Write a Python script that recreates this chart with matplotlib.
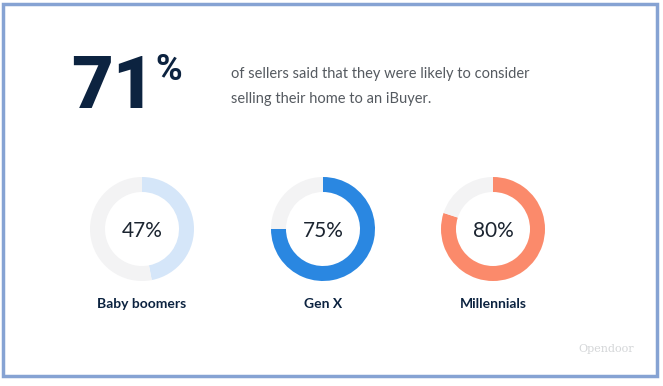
import matplotlib
matplotlib.use("Agg")
import matplotlib.pyplot as plt
from matplotlib.patches import Rectangle

# Data
headline_value = "71"
headline_text = ["of sellers said that they were likely to consider",
                 "selling their home to an iBuyer."]
groups = ["Baby boomers", "Gen X", "Millennials"]
shares = [47, 75, 80]
colors = ["#d5e6f9", "#2a87e1", "#fb8a6b"]
track = "#f3f3f4"
navy = "#0c2340"

W, H = 663, 386
fig = plt.figure(figsize=(W / 100, H / 100), dpi=100)
fig.patch.set_facecolor("white")

bg = fig.add_axes([0, 0, 1, 1])
bg.set_xlim(0, W)
bg.set_ylim(H, 0)
bg.axis("off")
bg.add_patch(Rectangle((3, 4), 654, 372, fill=False, edgecolor="#86a3d3", linewidth=2.5))

big = bg.text(71, 108, headline_value, fontsize=52, fontweight="black", family="Roboto",
              color=navy, ha="left", va="baseline")
fig.canvas.draw()
bb = big.get_window_extent()
bg.text(bb.x1 + 1, 80, "%", fontsize=26, fontweight="bold", family="Roboto",
        color=navy, ha="left", va="baseline")
bg.text(231, 78, headline_text[0], fontsize=10.5, family="Lato", color="#555a60",
        ha="left", va="baseline")
bg.text(231, 103, headline_text[1], fontsize=10.5, family="Lato", color="#555a60",
        ha="left", va="baseline")
bg.text(606, 349, "Opendoor", fontsize=8, family="DejaVu Serif", color="#d4d6d8",
        ha="center", va="center")

centers_x = [142, 323, 493]
cy = 229
R = 52
ring = 15
for gx, g, v, c in zip(centers_x, groups, shares, colors):
    ax = fig.add_axes([(gx - R) / W, (H - cy - R) / H, 2 * R / W, 2 * R / H])
    ax.pie([v, 100 - v], colors=[c, track], startangle=90, counterclock=False,
           radius=1, wedgeprops=dict(width=ring / R, linewidth=0))
    ax.set_xlim(-1, 1)
    ax.set_ylim(-1, 1)
    ax.set_aspect("equal")
    ax.axis("off")
    bg.text(gx, cy + 2, f"{v}%", fontsize=15, family="Lato", fontweight="normal",
            color="#1b2430", ha="center", va="center")
    bg.text(gx, 304, g, fontsize=10, family="Lato", fontweight="bold",
            color=navy, ha="center", va="center")

fig.savefig("out.png", dpi=100, facecolor="white")
